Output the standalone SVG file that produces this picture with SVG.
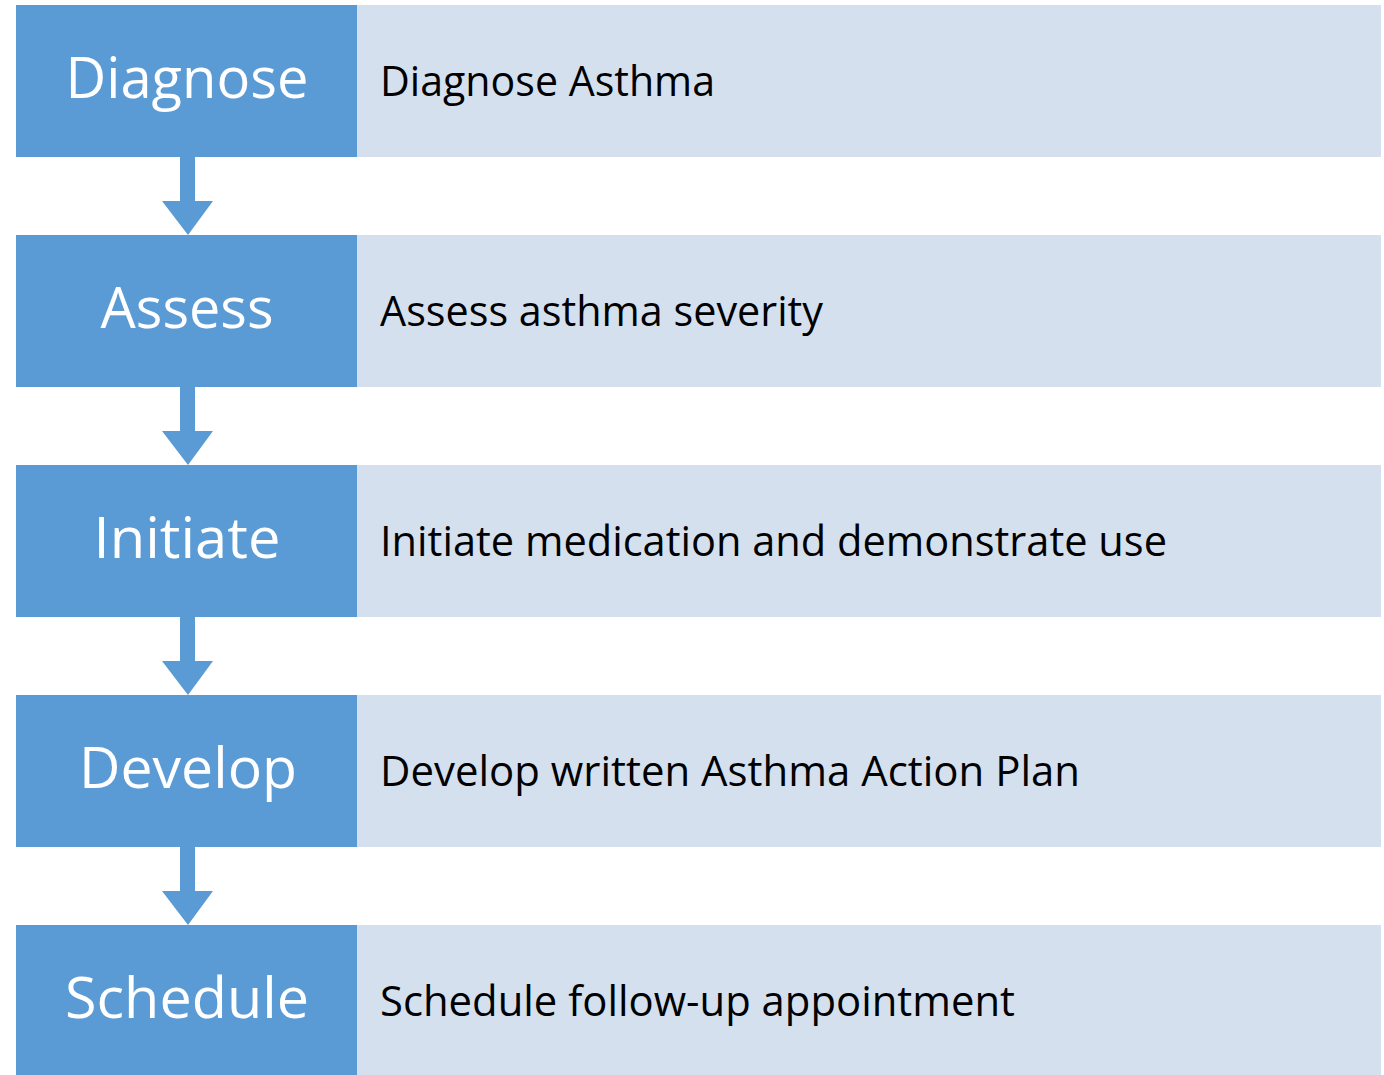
<svg xmlns="http://www.w3.org/2000/svg" width="1384" height="1075" viewBox="0 0 1384 1075">
<style>
.key{fill:#5B9BD5}
.desc{fill:#D5E0EF}
.kt{font-family:"Open Sans","Liberation Sans",sans-serif;font-size:56px;fill:#FFFFFF;text-anchor:middle}
.dt{font-family:"Open Sans","Liberation Sans",sans-serif;font-size:42px;fill:#000000}
.arr{fill:#5B9BD5}
</style>
<rect width="1384" height="1075" fill="#FFFFFF"/>
<g id="connectors">
<path class="arr" d="M180,157 H195 V201 H213 L188,235 L162,201 H180 Z"/>
<path class="arr" d="M180,387 H195 V431 H213 L188,465 L162,431 H180 Z"/>
<path class="arr" d="M180,617 H195 V661 H213 L188,695 L162,661 H180 Z"/>
<path class="arr" d="M180,847 H195 V891 H213 L188,925 L162,891 H180 Z"/>
</g>
<g id="row-diagnose">
<rect class="desc" x="357" y="5" width="1024" height="152"/>
<rect class="key" x="16" y="5" width="341" height="152"/>
<text class="kt" x="187" y="98" textLength="243" lengthAdjust="spacingAndGlyphs">Diagnose</text>
<text class="dt" x="380" y="96" textLength="335" lengthAdjust="spacingAndGlyphs">Diagnose Asthma</text>
</g>
<g id="row-assess">
<rect class="desc" x="357" y="235" width="1024" height="152"/>
<rect class="key" x="16" y="235" width="341" height="152"/>
<text class="kt" x="187" y="328" textLength="173" lengthAdjust="spacingAndGlyphs">Assess</text>
<text class="dt" x="380" y="326" textLength="443" lengthAdjust="spacingAndGlyphs">Assess asthma severity</text>
</g>
<g id="row-initiate">
<rect class="desc" x="357" y="465" width="1024" height="152"/>
<rect class="key" x="16" y="465" width="341" height="152"/>
<text class="kt" x="187" y="558" textLength="187" lengthAdjust="spacingAndGlyphs">Initiate</text>
<text class="dt" x="380" y="556" textLength="787" lengthAdjust="spacingAndGlyphs">Initiate medication and demonstrate use</text>
</g>
<g id="row-develop">
<rect class="desc" x="357" y="695" width="1024" height="152"/>
<rect class="key" x="16" y="695" width="341" height="152"/>
<text class="kt" x="188" y="788" textLength="218" lengthAdjust="spacingAndGlyphs">Develop</text>
<text class="dt" x="380" y="786" textLength="700" lengthAdjust="spacingAndGlyphs">Develop written Asthma Action Plan</text>
</g>
<g id="row-schedule">
<rect class="desc" x="357" y="925" width="1024" height="152"/>
<rect class="key" x="16" y="925" width="341" height="152"/>
<text class="kt" x="187" y="1018" textLength="244" lengthAdjust="spacingAndGlyphs">Schedule</text>
<text class="dt" x="380" y="1016" textLength="635" lengthAdjust="spacingAndGlyphs">Schedule follow-up appointment</text>
</g>
</svg>
